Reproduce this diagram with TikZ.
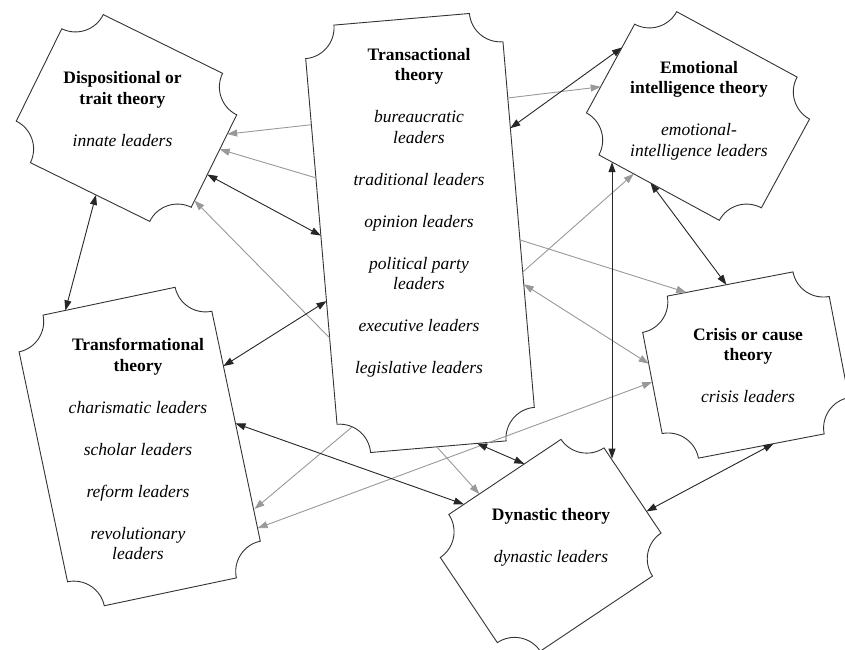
\documentclass[tikz,border=0pt]{standalone}
\usepackage{fontspec}
\setmainfont{Liberation Serif}
\usetikzlibrary{arrows.meta,positioning}

\def\rr{31}
\newcommand\plaque[5]{%
	\begin{scope}[shift={(#1,#2)},y=1pt,rotate=#3]
		\pgfmathsetmacro\plw{#4/2}
		\pgfmathsetmacro\plh{#5/2}
		\draw[frame] (-\plw+\rr,\plh) -- (\plw-\rr,\plh)
			arc[start angle=180,end angle=270,radius=\rr pt]
			-- (\plw,-\plh+\rr)
			arc[start angle=90,end angle=180,radius=\rr pt]
			-- (-\plw+\rr,-\plh)
			arc[start angle=0,end angle=90,radius=\rr pt]
			-- (-\plw,\plh-\rr)
			arc[start angle=-90,end angle=0,radius=\rr pt]
			-- cycle;
	\end{scope}}

\begin{document}
\begin{tikzpicture}[x=1pt,y=-1pt,
		frame/.style={draw=black!80,line width=0.9pt,fill=white},
		lbl/.style={anchor=north,align=center,inner sep=0pt,font=\fontsize{17.5}{20.5}\selectfont},
		tip/.style={Triangle[length=10pt,width=7pt]},
		dark/.style={draw=black!85,line width=0.9pt,{Triangle[length=10pt,width=7pt]}-{Triangle[length=10pt,width=7pt]}},
		pale/.style={draw=black!40,line width=0.9pt,-{Triangle[length=10pt,width=7pt]}},
		paleboth/.style={draw=black!40,line width=0.9pt,{Triangle[length=10pt,width=7pt]}-{Triangle[length=10pt,width=7pt]}}]
		\useasboundingbox (0,0) rectangle (845,649);
		\fill[white] (0,0) rectangle (845,649);
		\clip (0,0) rectangle (845,649);

		\plaque{126.5}{118}{-26.2}{195}{165}
		\plaque{420}{233}{4.9}{198}{429}
		\plaque{698}{116}{-28.5}{199}{163}
		\plaque{139.7}{446.5}{11.9}{197}{297}
		\plaque{745.7}{365}{10.9}{190}{165}
		\plaque{550.65}{545.25}{33.8}{197}{164.5}

		\coordinate (di1) at (227.2,134.1);
		\coordinate (di2) at (219.7,149.3);
		\coordinate (di3) at (207.3,174.5);
		\coordinate (di4) at (194.5,200.6);
		\coordinate (di5) at (96,194.9);
		\coordinate (tr1) at (311.4,124.7);
		\coordinate (tr2) at (316,177.9);
		\coordinate (tr3) at (320.9,235.6);
		\coordinate (tr4) at (329.7,338);
		\coordinate (tr5) at (326.5,301.1);
		\coordinate (tr6) at (352,427);
		\coordinate (tr7) at (436.8,446.8);
		\coordinate (tr8) at (477.1,443.4);
		\coordinate (tr9) at (507.8,98);
		\coordinate (tr10) at (510.3,128.2);
		\coordinate (tr11) at (519.9,239.9);
		\coordinate (tr12) at (522.7,272.1);
		\coordinate (tr13) at (523.7,284.2);
		\coordinate (em1) at (600.7,86.8);
		\coordinate (em2) at (622,47.5);
		\coordinate (em3) at (633.7,173.8);
		\coordinate (em4) at (612,162.2);
		\coordinate (em5) at (650.5,182.9);
		\coordinate (cr1) at (686.3,292.4);
		\coordinate (cr2) at (726.4,284.7);
		\coordinate (cr3) at (648.7,363.7);
		\coordinate (cr4) at (652.2,382);
		\coordinate (cr5) at (773.6,443.6);
		\coordinate (tf1) at (65.4,310.4);
		\coordinate (tf2) at (223.4,366.1);
		\coordinate (tf3) at (235.5,423.4);
		\coordinate (tf4) at (254.5,509);
		\coordinate (tf5) at (257.6,528.2);
		\coordinate (dy1) at (463.9,504.3);
		\coordinate (dy2) at (479.3,494);
		\coordinate (dy3) at (524.3,463.9);
		\coordinate (dy4) at (612,458.6);
		\coordinate (dy5) at (646.5,511.4);

		\foreach \a/\b in {tr1/di1,tr2/di2,tr4/di4,tr9/em1,tr12/em3,tr11/cr1,tr6/tf4,tr7/dy2}
			\draw[pale] (\a) -- (\b);
		\foreach \a/\b in {tf5/cr4,tr13/cr3}
			\draw[paleboth] (\a) -- (\b);
		\foreach \a/\b in {di3/tr3,di5/tf1,tr5/tf2,tf3/dy1,tr8/dy3,em4/dy4,em5/cr2,dy5/cr5,tr10/em2}
			\draw[dark] (\a) -- (\b);

		\node[lbl] (disp) at (122.5,71.5) {\textbf{Dispositional or}\\\textbf{trait theory}\\[21.5pt]\textit{innate leaders}};
		\node[lbl] (trans) at (419,48) {\textbf{Transactional}\\\textbf{theory}\\[21.5pt]\textit{bureaucratic}\\\textit{leaders}\\[21.5pt]\textit{traditional leaders}\\[21.5pt]\textit{opinion leaders}\\[21.5pt]\textit{political party}\\\textit{leaders}\\[21.5pt]\textit{executive leaders}\\[21.5pt]\textit{legislative leaders}};
		\node[lbl] (emo) at (699,61) {\textbf{Emotional}\\\textbf{intelligence theory}\\[21.5pt]\textit{emotional-}\\\textit{intelligence leaders}};
		\node[lbl] (transf) at (138,338) {\textbf{Transformational}\\\textbf{theory}\\[21.5pt]\textit{charismatic leaders}\\[21.5pt]\textit{scholar leaders}\\[21.5pt]\textit{reform leaders}\\[21.5pt]\textit{revolutionary}\\\textit{leaders}};
		\node[lbl] (crisis) at (748,328) {\textbf{Crisis or cause}\\\textbf{theory}\\[21.5pt]\textit{crisis leaders}};
		\node[lbl] (dyn) at (551,508) {\textbf{Dynastic theory}\\[21.5pt]\textit{dynastic leaders}};
	\end{tikzpicture}
\end{document}
